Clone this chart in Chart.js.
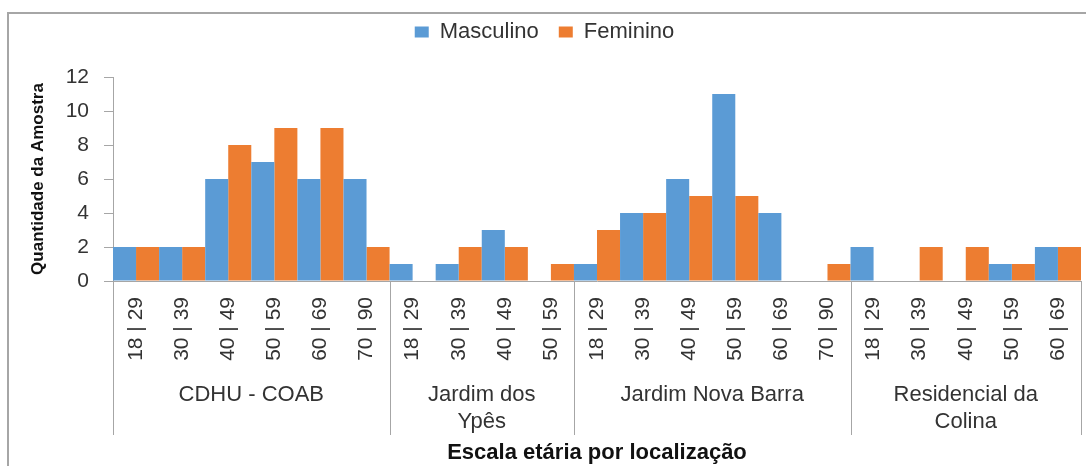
<!DOCTYPE html>
<html>
<head>
<meta charset="utf-8">
<script src="https://cdn.jsdelivr.net/npm/chart.js@4.4.1/dist/chart.umd.min.js"></script>
<style>
    html, body { margin: 0; padding: 0; background: #ffffff; }
    #wrap { width: 1086px; height: 466px; position: relative; }
</style>
</head>
<body>
<div id="wrap"><canvas id="ageChart"></canvas></div>
<script>
// faixas etarias, na ordem do eixo x
const ageLabels = [
    '18 | 29', '30 | 39', '40 | 49', '50 | 59', '60 | 69', '70 | 90',
    '18 | 29', '30 | 39', '40 | 49', '50 | 59',
    '18 | 29', '30 | 39', '40 | 49', '50 | 59', '60 | 69', '70 | 90',
    '18 | 29', '30 | 39', '40 | 49', '50 | 59', '60 | 69'
];

// localizacoes (quebradas em linhas como no original) e quantas faixas cada uma tem
const groupLines = [
    ['CDHU - COAB'],
    ['Jardim dos', 'Ypês'],
    ['Jardim Nova Barra'],
    ['Residencial da', 'Colina']
];
const groupSizes = [6, 4, 6, 5];

const masculino = [2, 2, 6, 7, 6, 6, 1, 1, 3, 0, 1, 4, 6, 11, 4, 0, 2, 0, 0, 1, 2];
const feminino = [2, 2, 8, 9, 9, 2, 0, 2, 2, 1, 3, 4, 5, 5, 0, 1, 0, 2, 2, 1, 2];

const yTicks = [0, 2, 4, 6, 8, 10, 12];

const colors = {
    blue: '#5b9bd5',
    orange: '#ed7d31',
    text: '#333333',
    line: '#a6a6a6'
};

const fontFamily = '"Liberation Sans", Arial, sans-serif';

const framePlugin = {
    id: 'frame',
    beforeDraw: function (chart) {
        const ctx = chart.ctx;
        ctx.save();
        ctx.fillStyle = '#ffffff';
        ctx.fillRect(0, 0, chart.width, chart.height);
        ctx.strokeStyle = colors.line;
        ctx.lineWidth = 2;
        ctx.strokeRect(8, 13, chart.width + 20, chart.height + 20);
        ctx.restore();
    }
};

const groupPlugin = {
    id: 'groups',
    afterDraw: function (chart) {
        const x = chart.scales.x;
        const ctx = chart.ctx;
        const half = (x.getPixelForValue(1) - x.getPixelForValue(0)) / 2;
        const top = chart.chartArea.bottom;

        const edges = [x.getPixelForValue(0) - half];
        let count = 0;
        groupSizes.forEach(function (n) {
            count += n;
            edges.push(x.getPixelForValue(count - 1) + half);
        });

        ctx.save();
        ctx.strokeStyle = colors.line;
        ctx.lineWidth = 1;
        edges.forEach(function (px) {
            const sx = Math.round(px) + 0.5;
            ctx.beginPath();
            ctx.moveTo(sx, top);
            ctx.lineTo(sx, top + 154);
            ctx.stroke();
        });

        ctx.font = '22px ' + fontFamily;
        ctx.fillStyle = colors.text;
        ctx.textAlign = 'center';
        ctx.textBaseline = 'middle';
        groupLines.forEach(function (lines, i) {
            const cx = (edges[i] + edges[i + 1]) / 2;
            lines.forEach(function (t, j) {
                ctx.fillText(t, cx, top + 114 + j * 27);
            });
        });
        ctx.restore();
    }
};

new Chart(document.getElementById('ageChart'), {
    type: 'bar',
    data: {
        labels: ageLabels,
        datasets: [
            {
                label: 'Masculino',
                data: masculino,
                backgroundColor: colors.blue,
                borderWidth: 0,
                inflateAmount: 0,
                categoryPercentage: 1,
                barPercentage: 1
            },
            {
                label: 'Feminino',
                data: feminino,
                backgroundColor: colors.orange,
                borderWidth: 0,
                inflateAmount: 0,
                categoryPercentage: 1,
                barPercentage: 1
            }
        ]
    },
    options: {
        responsive: true,
        maintainAspectRatio: false,
        animation: false,
        layout: {
            padding: { top: 1, left: 8, right: 5, bottom: 0 }
        },
        plugins: {
            legend: {
                position: 'top',
                labels: {
                    boxWidth: 14,
                    boxHeight: 11,
                    padding: 20,
                    color: colors.text,
                    font: { family: fontFamily, size: 22 }
                }
            },
            // empty title used only as a gap between legend and plot
            title: {
                display: true,
                text: '',
                position: 'top',
                weight: 500,
                font: { size: 10, lineHeight: 1.2 },
                padding: { top: 6, bottom: 6 }
            },
            tooltip: { enabled: false }
        },
        scales: {
            x: {
                grid: { display: true, drawOnChartArea: false, drawTicks: false },
                border: { display: true, color: colors.line, width: 1 },
                ticks: {
                    autoSkip: false,
                    minRotation: 90,
                    maxRotation: 90,
                    padding: 16,
                    color: colors.text,
                    font: { family: fontFamily, size: 21 }
                },
                title: {
                    display: true,
                    text: 'Escala etária por localização',
                    color: '#111111',
                    font: { family: fontFamily, size: 22, weight: 'bold' },
                    padding: { top: 0, bottom: 0 }
                },
                afterFit: function (scale) {
                    scale.height = 185;
                    scale.paddingLeft = 0;
                    scale.paddingRight = 0;
                }
            },
            y: {
                min: 0,
                max: 12,
                grid: {
                    display: true,
                    drawOnChartArea: false,
                    drawTicks: true,
                    tickLength: 9,
                    color: colors.line
                },
                border: { display: true, color: colors.line, width: 1 },
                afterBuildTicks: function (scale) {
                    scale.ticks = yTicks.map(function (v) { return { value: v }; });
                },
                ticks: {
                    padding: 15,
                    color: colors.text,
                    font: { family: fontFamily, size: 21 }
                },
                title: {
                    display: true,
                    text: 'Quantidade da Amostra',
                    color: '#111111',
                    font: { family: fontFamily, size: 17, weight: 'bold' },
                    padding: { top: 20, bottom: 0 }
                },
                afterFit: function (scale) {
                    scale.width = 105;
                }
            }
        }
    },
    plugins: [framePlugin, groupPlugin]
});
</script>
</body>
</html>
